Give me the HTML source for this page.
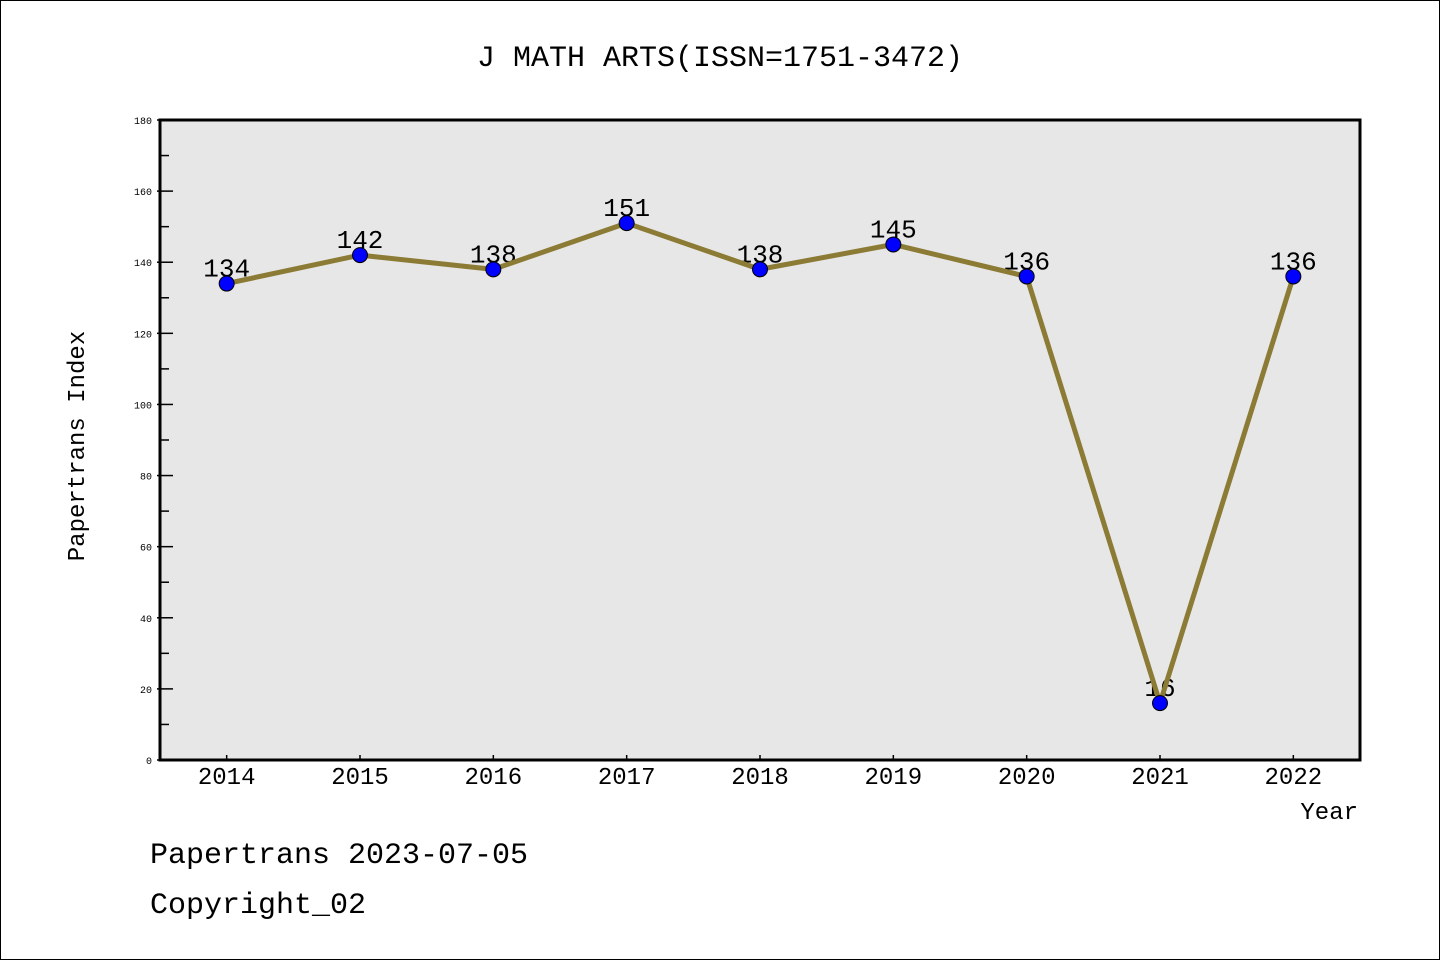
<!DOCTYPE html>
<html><head><meta charset="utf-8"><style>
body{margin:0;background:#fff}
svg text{font-family:"WenQuanYi Zen Hei Mono","Liberation Mono",monospace}
</style></head><body>
<svg width="1440" height="960" xmlns="http://www.w3.org/2000/svg">
<rect x="0.5" y="0.5" width="1439" height="959" fill="#fff" stroke="#000"/>
<text x="720" y="66" font-size="30" text-anchor="middle">J MATH ARTS(ISSN=1751-3472)</text>
<rect x="160" y="120" width="1200" height="640" fill="#e7e7e7"/>
<g id="axes"></g>
<g id="labels"></g>
<g id="series"></g>
<rect x="160" y="120" width="1200" height="640" fill="none" stroke="#000" stroke-width="3"/>
<text x="84" y="446" font-size="24" text-anchor="middle" transform="rotate(-90 84 446)">Papertrans Index</text>
<text x="1358" y="819" font-size="24" text-anchor="end">Year</text>
<text x="150" y="863" font-size="30">Papertrans 2023-07-05</text>
<text x="150" y="913" font-size="30">Copyright_02</text>
</svg>
<script>
const years=["2014","2015","2016","2017","2018","2019","2020","2021","2022"];
const values=[134,142,138,151,138,145,136,16,136];
const yTicks=[0,20,40,60,80,100,120,140,160,180];
const NS="http://www.w3.org/2000/svg";
const X0=160,W=1200,Y0=760,H=640,YMAX=180;
function xs(i){return X0+(i+0.5)*W/years.length;}
function ys(v){return Y0-v/YMAX*H;}
function mk(tag,attrs,parent){const e=document.createElementNS(NS,tag);for(const k in attrs)e.setAttribute(k,attrs[k]);parent.appendChild(e);return e;}
const axes=document.getElementById('axes'),labels=document.getElementById('labels'),series=document.getElementById('series');
yTicks.forEach((t,i)=>{
  const y=ys(t);
  const l=mk('line',{x1:157,x2:173,y1:y,y2:y,stroke:'#000','stroke-width':1.5},axes);
  
  
  const tx=mk('text',{x:152,y:y+4,'font-size':10,'text-anchor':'end'},axes);
  tx.textContent=t;
  
  
  if(i<yTicks.length-1){
    const ym=ys(t+10);
    const m=mk('line',{x1:160,x2:169,y1:ym,y2:ym,stroke:'#000','stroke-width':1.5},axes);
    
    
  }
});
years.forEach((yr,i)=>{
  const x=xs(i);
  const l=mk('line',{x1:x,x2:x,y1:755,y2:760,stroke:'#000','stroke-width':1.5},axes);
  
  
  const tx=mk('text',{x:x,y:784,'font-size':24,'text-anchor':'middle'},axes);
  tx.textContent=yr;
  
  
  const vl=mk('text',{x:x,y:ys(values[i])-7,'font-size':26,'text-anchor':'middle'},labels);
  vl.textContent=values[i];
  
  
});
const pts=values.map((v,i)=>xs(i)+','+ys(v)).join(' ');
const pl=mk('polyline',{points:pts,fill:'none',stroke:'#8b7b35','stroke-width':5,'stroke-linejoin':'round'},series);


values.forEach((v,i)=>{
  const c=mk('circle',{cx:xs(i),cy:ys(v),r:7.5,fill:'#0000ff',stroke:'#000','stroke-width':1},series);
  
  
});
</script>
</body></html>
